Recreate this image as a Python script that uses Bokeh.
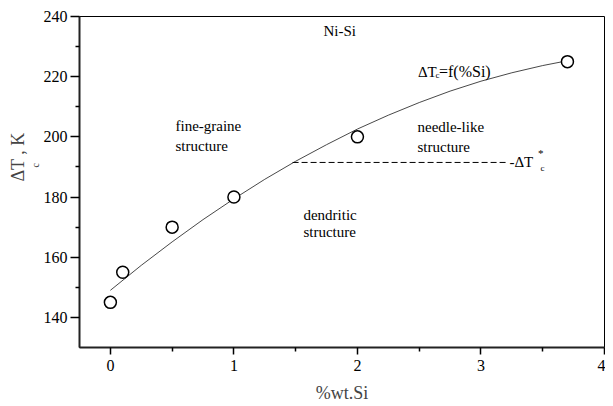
import math
from bokeh.plotting import figure
from bokeh.models import FixedTicker, Range1d, Title, Label
from bokeh.embed import file_html
from bokeh.resources import INLINE

# measured points
si_wt = [0.0, 0.1, 0.5, 1.0, 2.0, 3.7]
delta_tc = [145, 155, 170, 180, 200, 225]

# fitted curve
fit_x = [0.0, 0.25, 0.5, 0.75, 1.0, 1.25, 1.5, 1.75, 2.0, 2.25, 2.5, 2.75, 3.0, 3.25, 3.5, 3.7]
fit_y = [149.0, 157.3, 165.1, 172.5, 179.4, 185.9, 191.9, 197.4, 202.6, 207.2, 211.4, 215.2, 218.5, 221.3, 223.7, 225.3]

# critical undercooling line
crit_x = [1.475, 3.22]
crit_y = [191.5, 191.5]

x_major = [0, 1, 2, 3, 4]
x_minor = [0.5, 1.5, 2.5, 3.5]
y_major = [140, 160, 180, 200, 220, 240]
y_minor = [150, 170, 190, 210, 230]

FONT = '"Liberation Serif", serif'

p = figure(frame_width=525, frame_height=331,
           min_border_left=79, min_border_right=1, min_border_top=16, min_border_bottom=50,
           x_range=Range1d(-0.25, 4.0), y_range=Range1d(130, 240),
           output_backend="svg", toolbar_location=None,
           background_fill_color="white", border_fill_color="white")
p.grid.visible = False
p.outline_line_color = "black"
p.outline_line_width = 1

for ax in (p.xaxis[0], p.yaxis[0]):
    ax.axis_line_width = 2
    ax.axis_line_color = "#222222"
    ax.major_tick_in = 0
    ax.minor_tick_in = 0
    ax.major_tick_line_width = 1.5
    ax.minor_tick_line_width = 1.5
    ax.major_label_text_font = FONT
    ax.major_label_text_font_size = "16px"
    ax.major_label_text_color = "black"

p.xaxis.ticker = FixedTicker(ticks=x_major, minor_ticks=x_minor)
p.yaxis.ticker = FixedTicker(ticks=y_major, minor_ticks=y_minor)
p.xaxis.major_tick_out = 7
p.xaxis.minor_tick_out = 4
p.yaxis.major_tick_out = 9
p.yaxis.minor_tick_out = 4
p.xaxis.major_label_standoff = 5
p.yaxis.major_label_standoff = 3

p.xaxis.axis_label = "%wt.Si"
p.xaxis.axis_label_text_font = FONT
p.xaxis.axis_label_text_font_style = "normal"
p.xaxis.axis_label_text_font_size = "18px"
p.xaxis.axis_label_standoff = 9

# y axis label: ΔT, subscript c, ", K"
p.add_layout(Title(text="c", text_font=FONT, text_font_size="10px",
                   text_font_style="normal", align="left", offset=180,
                   standoff=0), "left")
p.add_layout(Title(text="ΔT  , K", text_font=FONT, text_font_size="18px",
                   text_font_style="normal", align="left", offset=166,
                   standoff=0), "left")

p.line(fit_x, fit_y, line_color="#333333", line_width=0.9)
p.line(crit_x, crit_y, line_color="black", line_width=1, line_dash="6 3")
p.scatter(si_wt, delta_tc, marker="circle", size=12, fill_color="white",
          line_color="black", line_width=1.5)

def txt(x, y, s, size="15px", baseline="alphabetic"):
    p.add_layout(Label(x=x, y=y, text=s, text_font=FONT, text_font_size=size,
                       text_font_style="normal",
                       text_color="black", text_align="left",
                       text_baseline=baseline))

txt(1.725, 235.3, "Ni-Si")
txt(0.527, 203.5, "fine-graine")
txt(0.527, 197.1, "structure")
txt(2.486, 203.3, "needle-like")
txt(2.486, 196.6, "structure")
txt(1.563, 174.1, "dendritic")
txt(1.563, 168.3, "structure")

# ΔTc = f(%Si)
txt(2.490, 221.6, "ΔT")
txt(2.632, 220.6, "c", size="9px")
txt(2.660, 221.6, "=f(%Si)", size="16px")

# -ΔT*c
txt(3.230, 191.8, "-ΔT", baseline="middle")
txt(3.462, 194.8, "*", size="11px", baseline="middle")
txt(3.482, 189.8, "c", size="9px", baseline="middle")

open("out.html", "w").write(file_html(p, INLINE))
